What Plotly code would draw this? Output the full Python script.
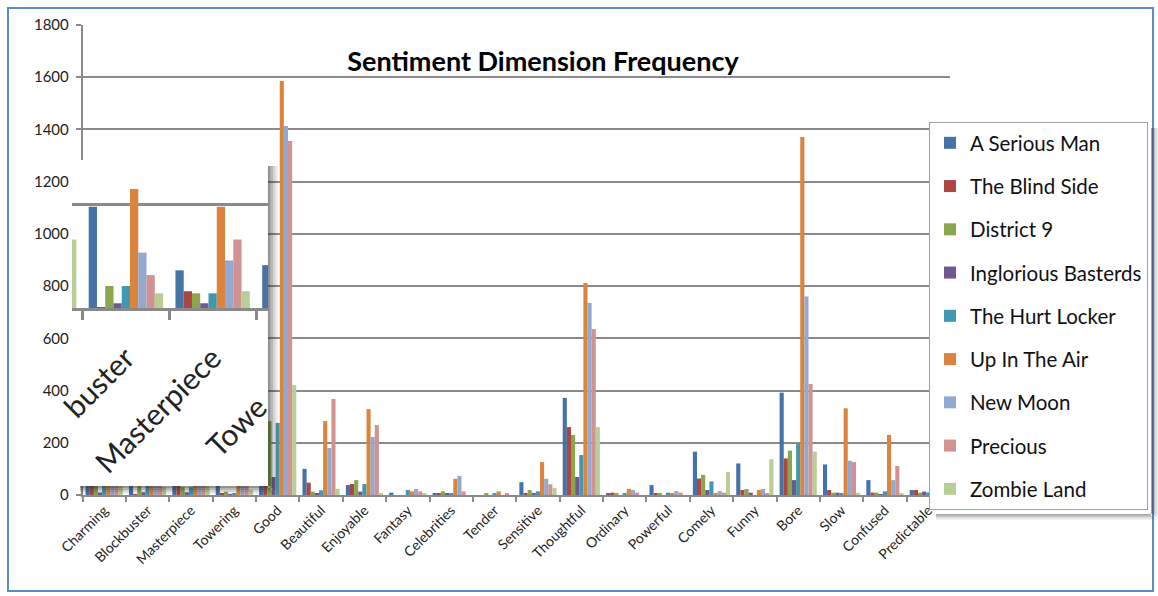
import plotly.graph_objects as go

# ---- data -------------------------------------------------------------
categories = ["Charming", "Blockbuster", "Masterpiece", "Towering", "Good",
              "Beautiful", "Enjoyable", "Fantasy", "Celebrities", "Tender",
              "Sensitive", "Thoughtful", "Ordinary", "Powerful", "Comely",
              "Funny", "Bore", "Slow", "Confused", "Predictable"]

movies = ["A Serious Man", "The Blind Side", "District 9", "Inglorious Basterds",
          "The Hurt Locker", "Up In The Air", "New Moon", "Precious", "Zombie Land"]

a_serious_man = [120, 196, 74, 84, 300, 100, 38, 9, 4, 0, 49, 372, 4, 38, 166, 121, 392, 117, 57, 19]
the_blind_side = [60, 2, 34, 8, 150, 47, 42, 0, 4, 0, 4, 260, 9, 4, 63, 19, 140, 19, 9, 19]
district_9 = [70, 44, 30, 12, 283, 13, 57, 0, 14, 5, 19, 230, 4, 4, 77, 23, 170, 9, 9, 9]
inglorious_basterds = [10, 11, 11, 3, 69, 5, 13, 0, 4, 0, 4, 69, 0, 0, 19, 9, 57, 9, 3, 13]
the_hurt_locker = [55, 44, 30, 8, 276, 18, 42, 19, 4, 5, 14, 153, 4, 9, 52, 0, 198, 4, 14, 10]
up_in_the_air = [220, 230, 196, 160, 1586, 283, 329, 14, 62, 14, 126, 812, 23, 4, 4, 19, 1371, 332, 230, 20]
new_moon = [180, 108, 93, 110, 1413, 180, 222, 23, 73, 0, 62, 735, 19, 15, 15, 23, 760, 131, 57, 15]
precious = [150, 65, 133, 120, 1356, 368, 268, 14, 14, 5, 41, 636, 9, 9, 9, 4, 425, 126, 111, 10]
zombie_land = [133, 30, 34, 20, 421, 24, 4, 5, 0, 0, 27, 260, 0, 0, 88, 137, 166, 9, 4, 5]

series = [a_serious_man, the_blind_side, district_9, inglorious_basterds,
          the_hurt_locker, up_in_the_air, new_moon, precious, zombie_land]

y_ticks = [0, 200, 400, 600, 800, 1000, 1200, 1400, 1600, 1800]

# labels of the magnified detail (clipped by its frame)
detail_tick_pos = [1, 2]
detail_tick_text = ["buster", "Masterpiece"]
detail_cut_label = "Towe"

colors = ["#4572A7", "#AA4643", "#89A54E", "#71588F", "#4198AF",
          "#DB843D", "#93A9CF", "#D19392", "#B9CD96"]

# ---- geometry helpers (pixels -> paper) --------------------------------
W, H = 1158, 596
L, R, T, B = 72, 208, 25, 101
PW, PH = W - L - R, H - T - B


def px(x):
    return (x - L) / PW


def py(y):
    return (H - B - y) / PH


axis_left = 82.5
cat_w = (W - R - axis_left) / len(categories)
k_main = PH / 1800.0

# magnified detail box
zoom = 2.0
ins_l, ins_r, ins_t, ins_b, ins_axis = 72, 268, 160, 486, 309
cw2 = cat_w * zoom
k2 = k_main * zoom
x2_lo = 0.5 - (axis_left - ins_l) / cw2
x2_hi = 0.5 + (ins_r - axis_left) / cw2
y2_lo = -(ins_b - ins_axis) / k2
y2_hi = (ins_axis - ins_t) / k2

fig = go.Figure()

for name, vals, col in zip(movies, series, colors):
    fig.add_trace(go.Bar(x=categories, y=vals, name=name, marker_color=col,
                         marker_line_width=0, legendgroup=name,
                         xaxis="x", yaxis="y"))

idx = list(range(len(categories)))
for name, vals, col in zip(movies, series, colors):
    fig.add_trace(go.Bar(x=idx, y=vals, name=name, marker_color=col,
                         marker_line_width=0, showlegend=False,
                         legendgroup=name,
                         xaxis="x2", yaxis="y2", hoverinfo="skip"))

grid_col = "#8a8a8a"
font_main = "Lato, 'Open Sans', sans-serif"

fig.update_layout(
    width=W, height=H,
    margin=dict(l=L, r=R, t=T, b=B, pad=0, autoexpand=False),
    paper_bgcolor="white", plot_bgcolor="white",
    barmode="group", bargap=1.5 / 10.5, bargroupgap=0,
    font=dict(family=font_main, color="#1a1a1a"),
    title=dict(text="<b>Sentiment Dimension Frequency</b>",
               x=543 / W, xanchor="center", y=1 - 62 / H, yanchor="middle",
               font=dict(family=font_main, size=27, color="#000")),
    xaxis=dict(domain=[px(axis_left), 1], type="category",
               range=[-0.5, len(categories) - 0.5],
               showline=True, linecolor=grid_col, linewidth=1.5,
               ticks="outside", tickson="boundaries", ticklen=5,
               tickcolor=grid_col, tickwidth=1.5,
               tickangle=-45, tickfont=dict(size=14, color="#222"),
               showgrid=False, zeroline=False),
    yaxis=dict(domain=[0, 1], range=[0, 1800], tickvals=y_ticks,
               showline=True, linecolor=grid_col, linewidth=1.5,
               ticks="outside", ticklen=5, tickcolor=grid_col, tickwidth=1.5,
               ticklabelstandoff=4,
               showgrid=True, gridcolor=grid_col, gridwidth=1.5,
               tickfont=dict(size=15, color="#222"), zeroline=False),
    xaxis2=dict(domain=[px(ins_l), px(ins_r)], range=[x2_lo, x2_hi],
                anchor="free", position=py(ins_axis),
                showline=True, linecolor=grid_col, linewidth=2.5,
                tickmode="array", tickvals=detail_tick_pos,
                ticktext=detail_tick_text, tickangle=-45,
                ticks="outside", ticklen=18, tickcolor="rgba(0,0,0,0)",
                tickfont=dict(size=30, color="#222"),
                minor=dict(tickmode="array", tickvals=[0.5, 1.5, 2.5],
                           ticks="outside", ticklen=9, tickcolor=grid_col,
                           tickwidth=2.5, showgrid=False),
                showgrid=False, zeroline=False),
    yaxis2=dict(domain=[py(ins_b), py(ins_t)], range=[y2_lo, y2_hi],
                anchor="x2", tickvals=[200], showticklabels=False,
                showgrid=True, gridcolor=grid_col, gridwidth=2.5,
                showline=False, zeroline=False, ticks=""),
    legend=dict(x=px(929), y=py(122), xanchor="left", yanchor="top",
                bgcolor="white", bordercolor="#a0a0a0", borderwidth=1,
                font=dict(family=font_main, size=20.5, color="#111"),
                tracegroupgap=13.6, traceorder="grouped"),
    showlegend=True,
)

# "Towering" label of the detail, cut off by the frame edge
fig.add_annotation(text=detail_cut_label, xref="paper", yref="paper",
                   x=px(276), y=py(386), xanchor="right", yanchor="top",
                   textangle=-45, showarrow=False,
                   font=dict(family=font_main, size=30, color="#222"))

shapes = []
# outer frame
shapes.append(dict(type="rect", xref="paper", yref="paper",
                   x0=px(8), x1=px(1153), y0=py(8), y1=py(591),
                   line=dict(color="#5B8BC9", width=2), layer="below"))

# soft shadow along the detail box
for i, a in enumerate([0.5, 0.34, 0.2, 0.09]):
    shapes.append(dict(type="rect", xref="paper", yref="paper",
                       x0=px(ins_r + 2.5 * i), x1=px(ins_r + 2.5 * (i + 1)),
                       y0=py(ins_t + 6), y1=py(ins_b + 2 * i),
                       line=dict(width=0), fillcolor=f"rgba(40,40,40,{a})",
                       layer="above"))
    shapes.append(dict(type="rect", xref="paper", yref="paper",
                       x0=px(ins_l + 8), x1=px(ins_r + 2.5 * i),
                       y0=py(ins_b + 2 * i), y1=py(ins_b + 2 * (i + 1)),
                       line=dict(width=0), fillcolor=f"rgba(40,40,40,{a})",
                       layer="above"))

# shadow behind the legend
leg_r, leg_b = 1151, 514
for i, a in enumerate([0.45, 0.3, 0.17, 0.08]):
    shapes.append(dict(type="rect", xref="paper", yref="paper",
                       x0=px(leg_r + 2 * i), x1=px(leg_r + 2 * (i + 1)),
                       y0=py(128), y1=py(leg_b + 1.5 * i),
                       line=dict(width=0), fillcolor=f"rgba(60,60,60,{a})",
                       layer="below"))
    shapes.append(dict(type="rect", xref="paper", yref="paper",
                       x0=px(936), x1=px(leg_r + 2 * i),
                       y0=py(leg_b + 1.5 * i), y1=py(leg_b + 1.5 * (i + 1)),
                       line=dict(width=0), fillcolor=f"rgba(60,60,60,{a})",
                       layer="below"))

fig.update_layout(shapes=shapes)

fig.write_html("out.html")
